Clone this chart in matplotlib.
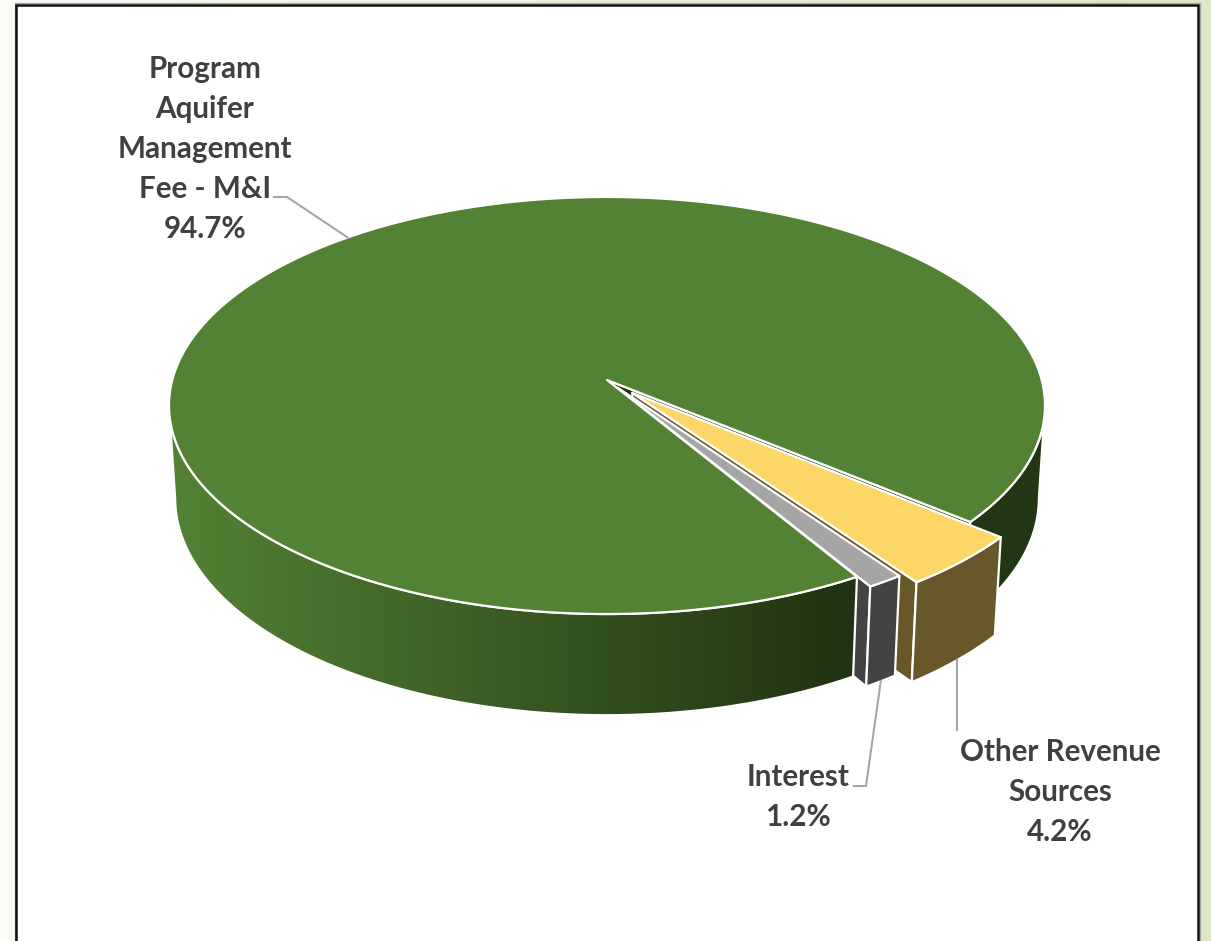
"""
Revenue share pie, drawn as an exploded 3D disc with a slight perspective
"""

import numpy as np
import matplotlib
matplotlib.use('Agg')
import matplotlib.pyplot as plt
from matplotlib.colors import LinearSegmentedColormap
from matplotlib.patches import Polygon, Rectangle

# Revenue shares, in drawing order going clockwise from the start angle
CATEGORIES = ['Other Revenue\nSources', 'Interest', 'Program\nAquifer\nManagement\nFee - M&I']
SHARES = [4.2, 1.2, 94.7]
EXPLODE = [0.085, 0.045, 0.0]

TOP_COLORS = ['#FCD666', '#A5A5A5', '#548235']
WALL_COLORS = ['#675729', '#434343', '#203614']

TEXT_COLOR = '#404040'
LEADER_COLOR = '#A6A6A6'
START_ANGLE = 39.6

# Projection of the disc onto the canvas (pixels)
CX, CY = 607.0, 380.0
RX, RY = 434.7, 205.4
TILT = 0.1223
DEPTH = 93.5
DEPTH_SHRINK = 0.014


def project(angle, radius=1.0, offset=(0.0, 0.0), z=0.0):
    """
    Map a point of the disc (angle in degrees, clockwise on screen) to pixels
    """
    a = np.radians(angle)
    u = radius * np.cos(a) + offset[0]
    v = radius * np.sin(a) + offset[1]
    w = 1 - TILT * v + DEPTH_SHRINK * z
    return np.column_stack([CX + RX * u / w, CY + (RY * v + DEPTH * z) / w])


def arc(start, end, offset=(0.0, 0.0), z=0.0):
    angles = np.linspace(start, end, max(int(abs(end - start) * 2), 2))
    return project(angles, 1.0, offset, z)


def outer_wall(start, end, offset=(0.0, 0.0)):
    return np.vstack([arc(start, end, offset), arc(end, start, offset, 1.0)])


def cut_face(angle, offset=(0.0, 0.0)):
    return np.vstack([
        project(np.array([angle]), 0.0, offset),
        project(np.array([angle]), 1.0, offset),
        project(np.array([angle]), 1.0, offset, 1.0),
        project(np.array([angle]), 0.0, offset, 1.0),
    ])


def top_face(start, end, offset=(0.0, 0.0)):
    return np.vstack([project(np.array([start]), 0.0, offset), arc(start, end, offset)])


def add_shape(ax, points, color, zorder, edge='white', lw=1.6):
    patch = Polygon(points, closed=True, facecolor=color, edgecolor=edge,
                    linewidth=lw, joinstyle='round', zorder=zorder)
    ax.add_patch(patch)
    return patch


fig = plt.figure(figsize=(12.11, 9.41), dpi=100)
ax = fig.add_axes([0, 0, 1, 1])
ax.axis('off')

# Slide background and the framed white panel
page = LinearSegmentedColormap.from_list(
    'page', [(0, '#FBFCF7'), (0.95, '#DFE8C6'), (1, '#DFE8C6')])
ax.imshow(np.linspace(0, 1, 256)[None, :], cmap=page, extent=(0, 1211, 941, 0),
          aspect='auto', zorder=0)
ax.add_patch(Rectangle((14.5, 3), 1185, 960, facecolor='none', edgecolor='#A8A8A8', linewidth=1, zorder=1))
ax.add_patch(Rectangle((16, 4.5), 1182, 960, facecolor='white', edgecolor='#111111', linewidth=1.8, zorder=1))

# Slice angles from the shares
total = sum(SHARES)
edges = START_ANGLE + np.cumsum([0] + SHARES) * 360 / total
mids = (edges[:-1] + edges[1:]) / 2
offsets = [(e * np.cos(np.radians(m)), e * np.sin(np.radians(m))) for e, m in zip(EXPLODE, mids)]

other_start, interest_start, main_start, main_end = edges

# Angle at which the disc edge turns away from the viewer on the right;
# walls have to stop there or their fill cancels out along the silhouette
turn = np.degrees(np.arcsin(TILT))

# Cut faces sit behind the main disc and only show through the gaps
add_shape(ax, cut_face(other_start), WALL_COLORS[2], 2)
add_shape(ax, cut_face(interest_start, offsets[0]), WALL_COLORS[0], 3)
add_shape(ax, cut_face(main_start, offsets[1]), WALL_COLORS[1], 4)

# Main disc wall: dark at the back right, shaded along the front
add_shape(ax, outer_wall(turn, other_start), WALL_COLORS[2], 5)
front = add_shape(ax, outer_wall(main_start, 180 - turn), 'none', 7)
shade = LinearSegmentedColormap.from_list('shade', [(0, '#548235'), (0.97, '#203313'), (1, '#203313')])
gradient = ax.imshow(np.linspace(0, 1, 256)[None, :], cmap=shade, extent=(170, 870, 941, 0),
                     aspect='auto', zorder=6)
gradient.set_clip_path(front)

# Main disc top
add_shape(ax, top_face(main_start, main_end), TOP_COLORS[2], 8)

# Exploded slices, back to front
add_shape(ax, outer_wall(other_start, interest_start, offsets[0]), WALL_COLORS[0], 9)
add_shape(ax, top_face(other_start, interest_start, offsets[0]), TOP_COLORS[0], 10)
add_shape(ax, outer_wall(interest_start, main_start, offsets[1]), WALL_COLORS[1], 11)
add_shape(ax, top_face(interest_start, main_start, offsets[1]), TOP_COLORS[1], 12)

# Leader lines start at the middle of each slice rim
main_anchor = project(np.array([mids[2]]))[0]
other_anchor = project(np.array([mids[0]]), 1.0, offsets[0], 1.0)[0]
interest_anchor = project(np.array([mids[1]]), 1.0, offsets[1], 1.0)[0]
leaders = [
    [main_anchor, (287, 197), (274, 197)],
    [other_anchor, (other_anchor[0], 730)],
    [interest_anchor, (866, 786), (854, 786)],
]
for leader in leaders:
    xs, ys = zip(*leader)
    ax.plot(xs, ys, color=LEADER_COLOR, linewidth=1.5, solid_joinstyle='miter', zorder=13)

# Labels with the share on the last line
label_style = dict(family='Lato', fontweight='bold', fontsize=21.3, color=TEXT_COLOR,
                   ha='center', va='center', linespacing=1.53, zorder=14)
ax.text(205, 149, f'{CATEGORIES[2]}\n{SHARES[2]:.1f}%', **label_style)
ax.text(1060, 792, f'{CATEGORIES[0]}\n{SHARES[0]:.1f}%', **label_style)
ax.text(798, 797, f'{CATEGORIES[1]}\n{SHARES[1]:.1f}%', **label_style)

ax.set_xlim(0, 1211)
ax.set_ylim(941, 0)

fig.savefig('out.png', dpi=100)
